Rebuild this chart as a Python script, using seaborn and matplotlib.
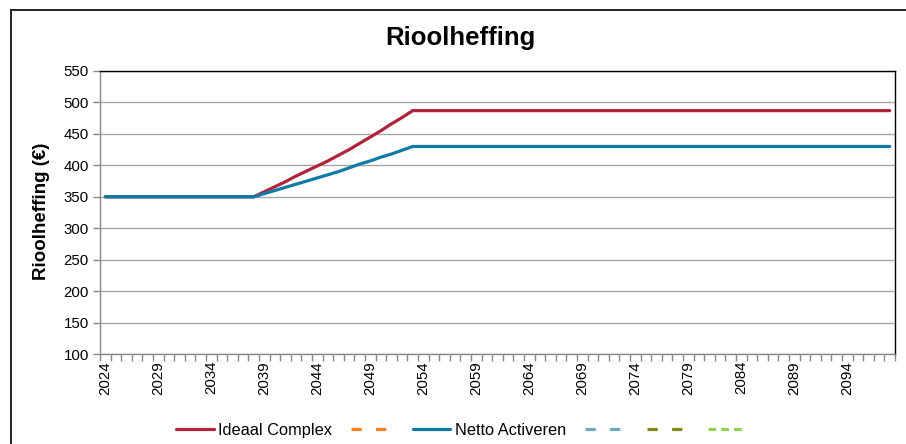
import numpy as np
import pandas as pd
import seaborn as sns
import matplotlib.pyplot as plt
from matplotlib.patches import Rectangle
from matplotlib.lines import Line2D

# data
years = list(range(2024, 2099))
ideaal_rise = [350, 358, 366, 374, 383, 391, 399, 407, 416, 425, 435, 445, 455, 466, 476, 487]
netto_rise = [350, 355, 360, 365, 370, 375, 380, 385, 390, 396, 402, 407, 413, 418, 424, 430]
flat_start = 350
ideaal = [flat_start] * 14 + ideaal_rise + [487] * 45
netto = [flat_start] * 14 + netto_rise + [430] * 45
tick_years = list(range(2024, 2095, 5))

df = pd.DataFrame({"Jaar": years, "Ideaal Complex": ideaal, "Netto Activeren": netto})

sns.set_style("white")
plt.rcParams['font.family'] = ['Liberation Sans', 'DejaVu Sans']
plt.rcParams['text.color'] = 'black'
plt.rcParams['xtick.color'] = 'black'
plt.rcParams['ytick.color'] = 'black'

fig = plt.figure(figsize=(9.06, 4.44), dpi=100)
ax = fig.add_axes([100 / 906, 90 / 444, 795 / 906, 283 / 444])

red = "#B0233A"
blue = "#0F7BA5"
sns.lineplot(data=df, x="Jaar", y="Ideaal Complex", color=red, lw=2.3, ax=ax)
sns.lineplot(data=df, x="Jaar", y="Netto Activeren", color=blue, lw=2.3, ax=ax)

ax.set_xlim(2023.5, 2098.5)
ax.set_ylim(100, 550)
ax.set_yticks(range(100, 551, 50))
ax.set_xticks(tick_years)
ax.set_xticklabels([str(y) for y in tick_years], rotation=90, fontsize=10.8)
ax.set_xticks(np.arange(2023.5, 2099, 1), minor=True)
ax.tick_params(axis='x', which='major', length=0, pad=5)
ax.tick_params(axis='x', which='minor', length=5, color="#888888", width=1, bottom=True)
ax.tick_params(axis='y', length=5, color="#888888", width=1, left=True, labelsize=10.8, pad=3)
ax.set_xlabel("")
ax.set_ylabel("")
ax.grid(axis='y', color="#A6A6A6", lw=1)
for s in ["left", "bottom"]:
    ax.spines[s].set_color("#888888")
    ax.spines[s].set_linewidth(1)
for s in ["top", "right"]:
    ax.spines[s].set_color("black")
    ax.spines[s].set_linewidth(1)

# legend like the original spreadsheet chart
handles = [
    Line2D([], [], color=red, lw=2.3),
    Line2D([], [], color="#F58220", lw=2.3, dashes=(3.2, 4.5)),
    Line2D([], [], color=blue, lw=2.3),
    Line2D([], [], color="#6FA8BF", lw=2.3, dashes=(3.2, 4.5)),
    Line2D([], [], color="#7F8A1A", lw=2.3, dashes=(3.2, 4.5)),
    Line2D([], [], color="#92D050", lw=2.3, dashes=(2.4, 1.6)),
]
labels = ["Ideaal Complex", "", "Netto Activeren", "", "", ""]
fig.legend(handles, labels, loc="center", bbox_to_anchor=(463 / 906, 1 - 430 / 444), ncol=6,
           frameon=False, fontsize=11.8, handlelength=2.3, handletextpad=0.25, columnspacing=1.2)

fig.text(460 / 906, 1 - 45 / 444, "Rioolheffing", ha="center", va="baseline",
         fontsize=18.5, fontweight="bold")
fig.text(41 / 906, 1 - 211 / 444, "Rioolheffing (€)", ha="center", va="center",
         rotation=90, fontsize=13.5, fontweight="bold")

fig.patches.append(Rectangle((11 / 906, -0.1), 1.0, 1 - 10 / 444 + 0.1, transform=fig.transFigure,
                             fill=False, edgecolor="#222222", lw=1.4))

fig.savefig("out.png", dpi=100)
